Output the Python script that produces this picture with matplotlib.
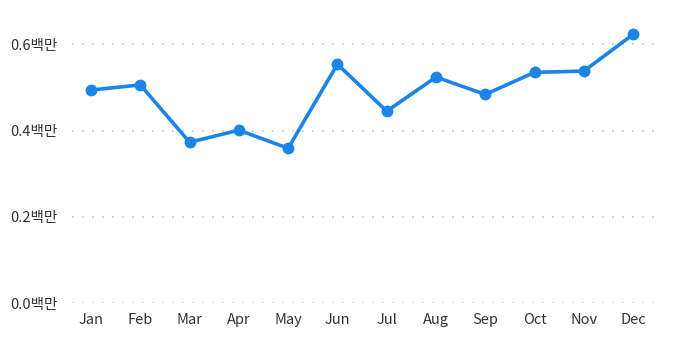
import matplotlib
matplotlib.use('Agg')
import matplotlib.pyplot as plt

plt.rcParams['font.family'] = ['Noto Sans CJK KR', 'DejaVu Sans']

months = ['Jan', 'Feb', 'Mar', 'Apr', 'May', 'Jun', 'Jul', 'Aug', 'Sep', 'Oct', 'Nov', 'Dec']
values = [0.494, 0.506, 0.373, 0.401, 0.359, 0.554, 0.445, 0.524, 0.484, 0.535, 0.538, 0.623]
yticks = [0.0, 0.2, 0.4, 0.6]
ylabels = ['0.0백만', '0.2백만', '0.4백만', '0.6백만']

fig = plt.figure(figsize=(6.84, 3.52), dpi=100)
ax = fig.add_axes([0.105, 0.139, 0.853, 0.833])

ax.plot(range(len(months)), values, color='#1a84ea', linewidth=2.6,
        marker='o', markersize=7.5, zorder=3)

ax.set_xlim(-0.39, 11.45)
ax.set_ylim(0, 0.68)
ax.set_xticks(range(len(months)))
ax.set_xticklabels(months)
ax.set_yticks(yticks)
ax.set_yticklabels(ylabels)
ax.grid(axis='y', color='#c8c8c8', linestyle=(0, (1, 5)), linewidth=1.2)
ax.tick_params(length=0, labelsize=10.5, colors='#333333', pad=7)
ax.tick_params(axis='y', pad=10)
for s in ax.spines.values():
    s.set_visible(False)

fig.savefig('out.png', dpi=100)
